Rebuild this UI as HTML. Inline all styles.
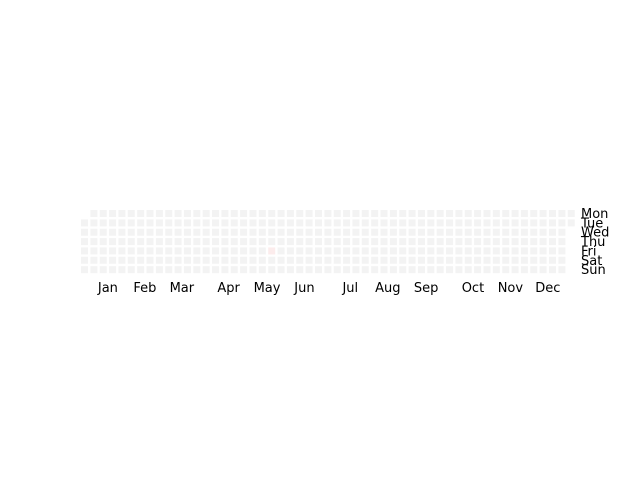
<!DOCTYPE html>
<html><head><meta charset="utf-8">
<style>html,body{margin:0;padding:0;background:#fff;}svg{display:block;font-family:"DejaVu Sans","Liberation Sans",sans-serif;}</style>
</head><body>
<svg id="chart" width="640" height="480" viewBox="0 0 640 480"></svg>
<script>
const dayLabels = ["Mon","Tue","Wed","Thu","Fri","Sat","Sun"];
const monthLabels = ["Jan","Feb","Mar","Apr","May","Jun","Jul","Aug","Sep","Oct","Nov","Dec"];
const monthWeek = [2.5,6.45,10.4,15.4,19.5,23.5,28.4,32.4,36.5,41.5,45.5,49.5];
const daysInYear = 365;
const firstWeekday = 1; // year starts on Tuesday
const eventDays = [143];
const eventValues = [1];

const NS="http://www.w3.org/2000/svg";
const svg=document.getElementById('chart');
const x0=81, y0=210, pitch=9.36, cell=7;
function xCol(c){return x0+c*pitch;}
function yRow(r){return y0+r*pitch;}
function color(v){return v>0?'#fcecec':'#f3f3f3';}
const vals=new Array(daysInYear).fill(0);
eventDays.forEach((d,i)=>{vals[d]=eventValues[i];});
for(let d=0;d<daysInYear;d++){
  const k=d+firstWeekday, c=Math.floor(k/7), r=k%7;
  const rect=document.createElementNS(NS,'rect');
  rect.setAttribute('x',xCol(c));rect.setAttribute('y',yRow(r));
  rect.setAttribute('width',cell);rect.setAttribute('height',cell);
  rect.setAttribute('fill',color(vals[d]));
  
  
  svg.appendChild(rect);
}
monthLabels.forEach((m,i)=>{
  const t=document.createElementNS(NS,'text');
  t.setAttribute('x',xCol(monthWeek[i])+cell/2);t.setAttribute('y',292);
  t.setAttribute('text-anchor','middle');t.setAttribute('font-size','13');
  t.textContent=m;
  
  
  svg.appendChild(t);
});
dayLabels.forEach((d,i)=>{
  const t=document.createElementNS(NS,'text');
  t.setAttribute('x',581);t.setAttribute('y',yRow(i)+cell/2+4.5);
  t.setAttribute('font-size','13');
  t.textContent=d;
  
  
  svg.appendChild(t);
});
</script>
</body></html>
